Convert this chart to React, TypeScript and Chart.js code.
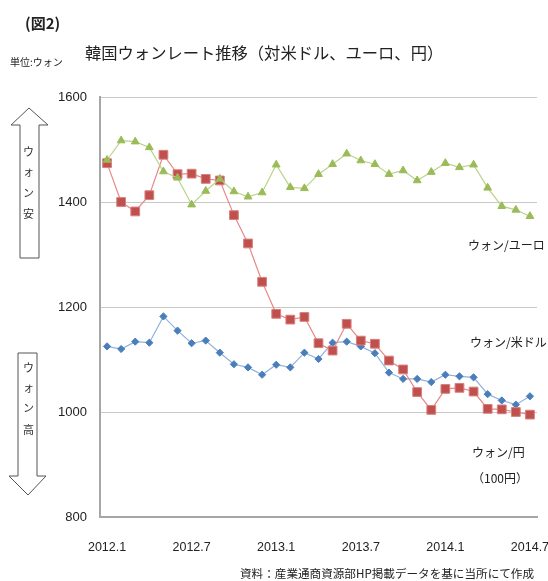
import React, { useEffect, useRef } from 'react';
import { Chart, registerables } from 'chart.js';

Chart.register(...registerables);

const months = [
  '2012.1', '2012.2', '2012.3', '2012.4', '2012.5', '2012.6', '2012.7', '2012.8', '2012.9', '2012.10', '2012.11', '2012.12',
  '2013.1', '2013.2', '2013.3', '2013.4', '2013.5', '2013.6', '2013.7', '2013.8', '2013.9', '2013.10', '2013.11', '2013.12',
  '2014.1', '2014.2', '2014.3', '2014.4', '2014.5', '2014.6', '2014.7',
];
const shownTicks = ['2012.1', '2012.7', '2013.1', '2013.7', '2014.1', '2014.7'];

const usd = [1125, 1120, 1134, 1132, 1182, 1155, 1131, 1136, 1113, 1091, 1085, 1071, 1090, 1085, 1113, 1101, 1132, 1134, 1125, 1112, 1075, 1063, 1063, 1057, 1071, 1068, 1066, 1034, 1022, 1014, 1030];
const eur = [1480, 1517, 1515, 1504, 1458, 1446, 1395, 1421, 1444, 1420, 1410, 1418, 1471, 1428, 1426, 1453, 1472, 1492, 1479, 1472, 1453, 1460, 1441, 1457, 1474, 1466, 1471, 1427, 1392, 1385, 1373];
const jpy = [1474, 1400, 1382, 1413, 1490, 1453, 1454, 1444, 1441, 1375, 1321, 1248, 1187, 1176, 1181, 1131, 1117, 1168, 1136, 1130, 1098, 1081, 1038, 1004, 1044, 1046, 1039, 1006, 1005, 1000, 995];

const yMin = 800;
const yMax = 1600;
const yStep = 200;

const JP = '"Noto Sans CJK JP", "Noto Sans", sans-serif';

export default function App() {
  const ref = useRef<HTMLCanvasElement>(null);

  useEffect(() => {
    const chart = new Chart(ref.current as HTMLCanvasElement, {
      type: 'line',
      data: {
        labels: months,
        datasets: [
          {
            label: 'ウォン/ユーロ',
            data: eur,
            borderColor: '#b9d48a',
            borderWidth: 1.2,
            pointStyle: 'triangle',
            pointRadius: 4.5,
            pointBackgroundColor: '#9bbb59',
            pointBorderColor: '#9bbb59',
            pointBorderWidth: 1,
            tension: 0,
          },
          {
            label: 'ウォン/円',
            data: jpy,
            borderColor: '#e58a88',
            borderWidth: 1.2,
            pointStyle: 'rect',
            pointRadius: 6.2,
            pointBackgroundColor: '#c0504d',
            pointBorderColor: '#d9807e',
            pointBorderWidth: 1,
            tension: 0,
          },
          {
            label: 'ウォン/米ドル',
            data: usd,
            borderColor: '#8fb2de',
            borderWidth: 1.2,
            pointStyle: 'rectRot',
            pointRadius: 3.6,
            pointBackgroundColor: '#4a7ebb',
            pointBorderColor: '#4a7ebb',
            pointBorderWidth: 1,
            tension: 0,
          },
        ],
      },
      options: {
        responsive: false,
        animation: false,
        layout: { padding: { top: 97, right: 11, left: 0, bottom: 0 } },
        plugins: { legend: { display: false }, tooltip: { enabled: false } },
        scales: {
          x: {
            offset: true,
            grid: { display: true, drawOnChartArea: false, drawTicks: false },
            border: { color: '#a6a6a6', width: 2 },
            ticks: {
              autoSkip: false,
              maxRotation: 0,
              minRotation: 0,
              padding: 23,
              color: '#222',
              font: { family: '"Liberation Sans", Arial, sans-serif', size: 12.5 },
              callback: function (this: any, value: any) {
                const l = this.getLabelForValue(value);
                return shownTicks.includes(l) ? l : '';
              },
            },
            afterFit: (s: any) => {
              s.height = 64;
              s.paddingLeft = 0;
              s.paddingRight = 0;
            },
          },
          y: {
            min: yMin,
            max: yMax,
            grid: { color: '#c8c8c8', drawTicks: false, lineWidth: 1 },
            border: { color: '#a6a6a6', width: 2 },
            ticks: {
              stepSize: yStep,
              padding: 13,
              color: '#222',
              font: { family: '"Liberation Sans", Arial, sans-serif', size: 13 },
              callback: (v: any) => String(v),
            },
            afterFit: (s: any) => {
              s.width = 100;
            },
          },
        },
      },
    } as any);
    return () => chart.destroy();
  }, []);

  const txt = (left: number, cy: number, size: number, text: string, extra: any = {}) => (
    <div
      style={{
        position: 'absolute',
        left,
        top: cy - size * 0.7,
        fontSize: size,
        lineHeight: `${size * 1.4}px`,
        fontFamily: JP,
        color: '#222',
        whiteSpace: 'nowrap',
        ...extra,
      }}
    >
      {text}
    </div>
  );

  const vChars = (chars: string[], ys: number[]) =>
    chars.map((c, i) => (
      <text key={i} x={28.5} y={ys[i]} fontSize={11} fontFamily={JP} fill="#333" textAnchor="middle" dominantBaseline="central">
        {c}
      </text>
    ));

  return (
    <div style={{ position: 'fixed', left: 0, top: 0, width: 548, height: 581, background: '#fff', overflow: 'hidden' }}>
      <canvas ref={ref} width={548} height={581} style={{ position: 'absolute', left: 0, top: 0, width: 548, height: 581 }} />
      <svg width={548} height={581} style={{ position: 'absolute', left: 0, top: 0, pointerEvents: 'none' }}>
        <polygon points="29,108 48,125 39,125 39,258 20,258 20,125 11,125" fill="#fff" stroke="#555" strokeWidth={1} />
        <polygon points="18,353 37,353 37,476 46,476 28,495 9,476 18,476" fill="#fff" stroke="#555" strokeWidth={1} />
        {vChars(['ウ', 'ォ', 'ン', '安'], [151, 171, 192, 213])}
        {vChars(['ウ', 'ォ', 'ン', '高'], [367, 387, 407, 429])}
      </svg>
      {txt(25, 22.5, 15, '(図2)', { fontWeight: 'bold' })}
      {txt(85, 52, 16.3, '韓国ウォンレート推移（対米ドル、ユーロ、円）')}
      {txt(10, 62, 10, '単位:ウォン')}
      {txt(468, 245, 12, 'ウォン/ユーロ')}
      {txt(470, 342, 12, 'ウォン/米ドル')}
      {txt(472, 452, 12, 'ウォン/円')}
      {txt(472, 478, 12, '（100円）')}
      {txt(240, 573, 11.6, '資料：産業通商資源部HP掲載データを基に当所にて作成')}
    </div>
  );
}
